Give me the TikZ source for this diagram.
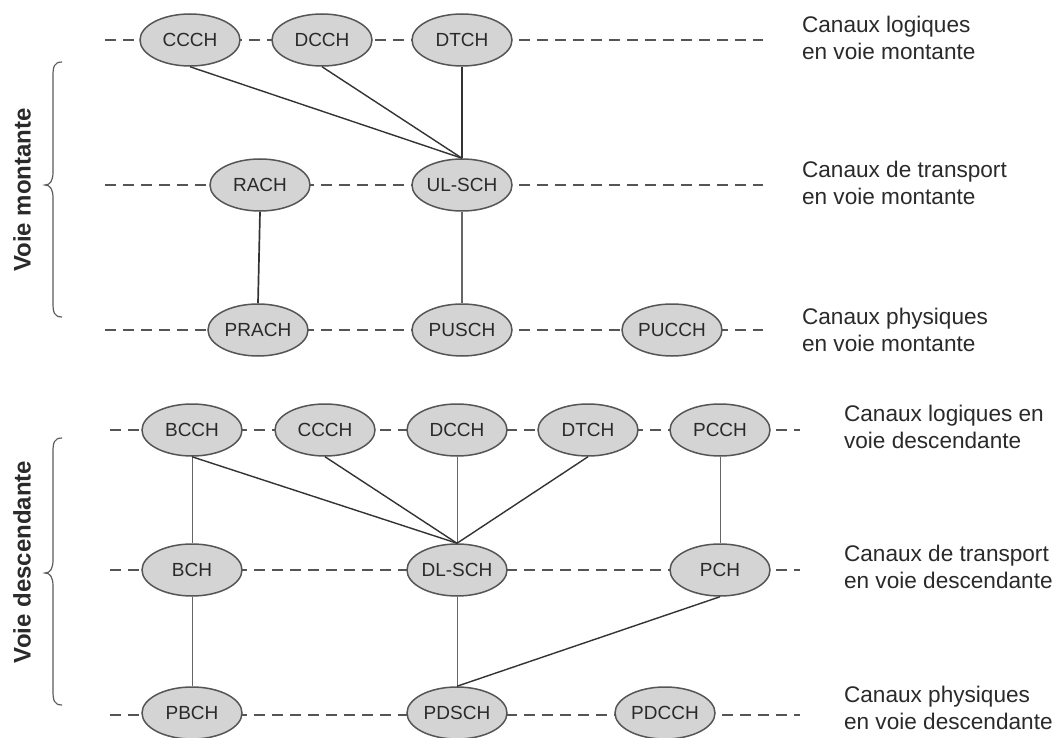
\documentclass[tikz,border=0pt]{standalone}
\usepackage{fontspec}
\setmainfont{Liberation Sans}
\usetikzlibrary{shapes.geometric}
\definecolor{ellfill}{HTML}{D4D4D4}
\definecolor{ellline}{HTML}{555555}
\definecolor{txt}{HTML}{2A2A2A}
\definecolor{dashc}{HTML}{555555}
\definecolor{linkdark}{HTML}{333333}
\definecolor{linklight}{HTML}{666666}
\begin{document}
\begin{tikzpicture}[x=0.5pt,y=-0.5pt,
  chan/.style={ellipse,draw=ellline,fill=ellfill,line width=0.75pt,
    minimum width=50pt,minimum height=26pt,inner sep=0pt,
    text=txt,font=\fontsize{9.5}{11}\selectfont},
  rowline/.style={draw=dashc,line width=1pt,dash pattern=on 5.5pt off 3.5pt},
  lbl/.style={anchor=west,align=left,text=txt,font=\fontsize{11.3}{13.5}\selectfont},
  side/.style={rotate=90,text=txt,font=\fontsize{12}{14}\selectfont\bfseries},
  dark/.style={draw=linkdark,line width=0.7pt},
  light/.style={draw=linklight,line width=0.5pt},
  bracec/.style={draw=linkdark!80,line width=0.6pt}]
\useasboundingbox[fill=white] (0,0) rectangle (1056,738);

% dashed row lines
\coordinate (r1a) at (105,40);  \coordinate (r1b) at (763,40);
\coordinate (r2a) at (105,185); \coordinate (r2b) at (763,185);
\coordinate (r3a) at (105,330); \coordinate (r3b) at (763,330);
\coordinate (r4a) at (110,430); \coordinate (r4b) at (800,430);
\coordinate (r5a) at (110,570); \coordinate (r5b) at (800,570);
\coordinate (r6a) at (110,715); \coordinate (r6b) at (800,715);
\foreach \r in {1,...,6} {\path[rowline] (r\r a) -- (r\r b);}

% uplink
\node[chan] (uCCCH) at (190,40) {CCCH};
\node[chan] (uDCCH) at (322,40) {DCCH};
\node[chan] (uDTCH) at (462,40) {DTCH};
\node[chan] (RACH) at (260,185) {RACH};
\node[chan] (ULSCH) at (462,185) {UL-SCH};
\node[chan] (PRACH) at (258,330) {PRACH};
\node[chan] (PUSCH) at (462,330) {PUSCH};
\node[chan] (PUCCH) at (672,330) {PUCCH};

% downlink
\node[chan] (BCCH) at (192,430) {BCCH};
\node[chan] (dCCCH) at (325,430) {CCCH};
\node[chan] (dDCCH) at (457,430) {DCCH};
\node[chan] (dDTCH) at (588,430) {DTCH};
\node[chan] (PCCH) at (720,430) {PCCH};
\node[chan] (BCH) at (192,570) {BCH};
\node[chan] (DLSCH) at (457,570) {DL-SCH};
\node[chan] (PCH) at (720,570) {PCH};
\node[chan] (PBCH) at (192,713) {PBCH};
\node[chan] (PDSCH) at (457,713) {PDSCH};
\node[chan] (PDCCH) at (665,713) {PDCCH};

% connectors uplink
\draw[dark] (uCCCH.south) -- (ULSCH.north);
\draw[dark] (uDCCH.south) -- (ULSCH.north);
\draw[dark] (uDTCH.south) -- (ULSCH.north);
\draw[dark,line width=0.85pt] (RACH.south) -- (PRACH.north);
\draw[light,line width=0.6pt] (ULSCH.south) -- (PUSCH.north);

% connectors downlink
\draw[light] (BCCH.south) -- (BCH.north);
\draw[dark] (BCCH.south) -- (DLSCH.north);
\draw[dark] (dCCCH.south) -- (DLSCH.north);
\draw[light] (dDCCH.south) -- (DLSCH.north);
\draw[dark] (dDTCH.south) -- (DLSCH.north);
\draw[light] (PCCH.south) -- (PCH.north);
\draw[light] (BCH.south) -- (PBCH.north);
\draw[light] (DLSCH.south) -- (PDSCH.north);
\draw[dark] (PCH.south) -- (PDSCH.north);

% labels
\node[lbl] (l1) at (795,38) {Canaux logiques\\en voie montante};
\node[lbl] (l2) at (795,183) {Canaux de transport\\en voie montante};
\node[lbl] (l3) at (795,330) {Canaux physiques\\en voie montante};
\node[lbl] (l4) at (837,427) {Canaux logiques en\\voie descendante};
\node[lbl] (l5) at (837,567) {Canaux de transport\\en voie descendante};
\node[lbl] (l6) at (837,708) {Canaux physiques\\en voie descendante};

% braces
\draw[bracec] (62,62) .. controls (54,62) and (53,67) .. (53,76)
  -- (53,172) .. controls (53,181) and (50,185) .. (45,185)
  .. controls (50,185) and (53,189) .. (53,198)
  -- (53,303) .. controls (53,312) and (54,317) .. (62,317);
\draw[bracec] (62,438) .. controls (54,438) and (53,443) .. (53,452)
  -- (53,560) .. controls (53,569) and (50,573) .. (45,573)
  .. controls (50,573) and (53,577) .. (53,586)
  -- (53,691) .. controls (53,700) and (54,705) .. (62,705);
\node[side] (vm) at (22,190) {Voie montante};
\node[side] (vd) at (22,562) {Voie descendante};
\end{tikzpicture}
\end{document}
